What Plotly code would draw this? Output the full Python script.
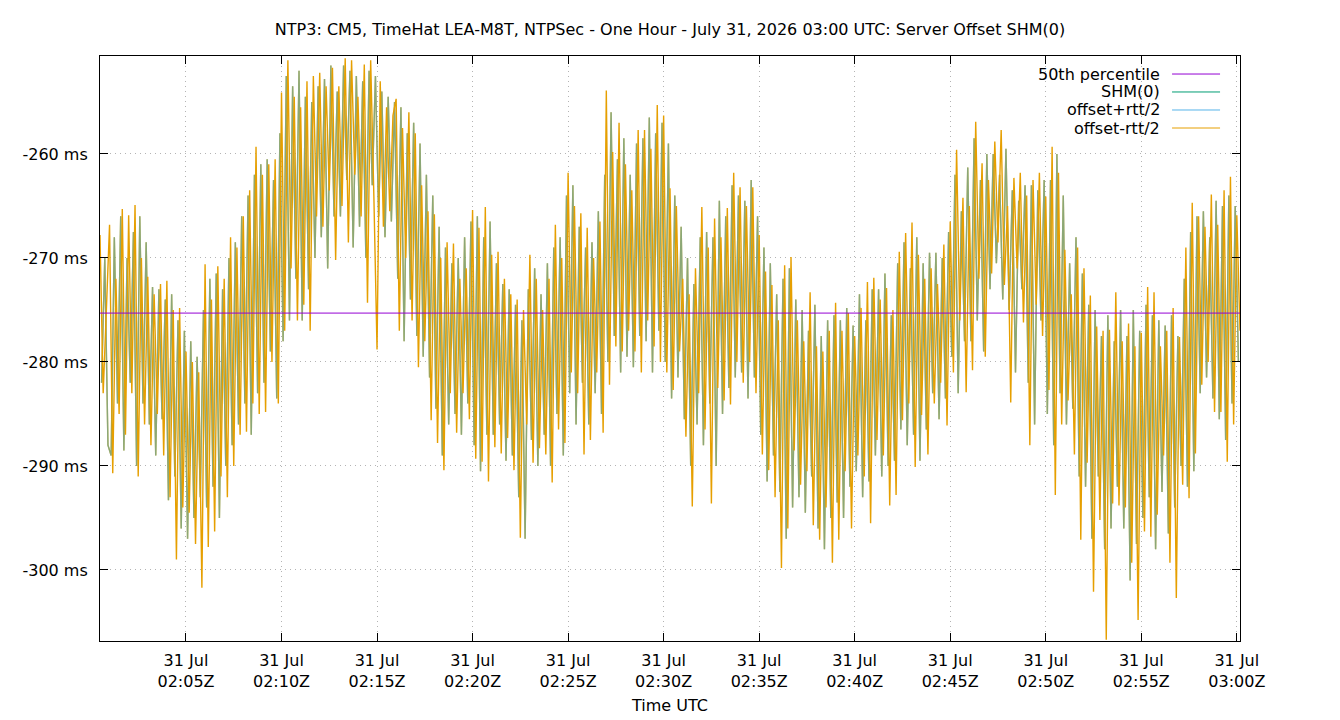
import pandas as pd
import plotly.graph_objects as go

TITLE = "NTP3: CM5, TimeHat LEA-M8T, NTPSec - One Hour - July 31, 2026 03:00 UTC: Server Offset SHM(0)"
START_A = "2026-07-31 02:00:30"
START_B = "2026-07-31 02:00:35"
STEP = "10s"

# offset-rtt/2 readings in ms (orange strokes), one per 10 s, grouped per minute
offset_minus_ms = [
    -267.8, -283, -275,
    -266.8, -290.7, -272, -285, -265.3, -287,
    -265.9, -283, -264.9, -291, -270, -286,
    -271.8, -288, -273.5, -285, -272.5, -289,
    -272.2, -293, -275, -299, -274.8, -294,
    -279, -294.5, -280, -297.5, -281, -301.7,
    -270.6, -297.8, -274, -296.3, -270.8, -291,
    -272, -293, -268, -290, -269, -287,
    -266, -286.7, -263.5, -284, -259.3, -285,
    -262, -284.8, -261, -280, -260.5, -284,
    -254.1, -277, -251, -271, -254.5, -276,
    -255.5, -274.5, -253, -277, -252.5, -266,
    -252.2, -267, -253.5, -263.5, -251.7, -270.2,
    -253.5, -265, -250.8, -268.5, -251, -262,
    -254.5, -266, -251.4, -274.3, -251, -264,
    -278.8, -253, -267, -255.5, -265.5, -256.3,
    -254.7, -277, -257.5, -270, -256, -276,
    -258, -280.5, -263, -278, -265.5, -285.6,
    -265.8, -287.8, -270, -290.4, -268.5, -283,
    -268.6, -286.8, -272, -283, -271, -285.5,
    -265.4, -289.3, -267.1, -289.6, -265.1, -291.5,
    -269.7, -288.2, -269.4, -288.8, -272, -287.3,
    -273.5, -290.4, -274, -296.9, -275, -286,
    -269.7, -289.7, -272, -288.3, -275, -288.9,
    -272, -291.6, -266.8, -286.5, -270, -287.8,
    -261.8, -281, -265, -283, -265.7, -288.9,
    -267.1, -287.5, -270, -281, -266.5, -286.8,
    -253.9, -282.2, -259.8, -278.5, -257, -279,
    -261, -277, -263.5, -279, -257.7, -281,
    -257.7, -276, -259.5, -278.5, -255.3, -280,
    -256.3, -281, -263.3, -282.7, -265, -279,
    -272, -287.2, -273.5, -293.9, -271, -283,
    -265.1, -286.5, -269, -293.6, -266.2, -282.5,
    -268, -283.7, -265.2, -284.1, -261.8, -280,
    -263.2, -282, -265, -280, -263.2, -283,
    -267.8, -288.9, -271.3, -290.4, -272.6, -293,
    -276, -299.8, -270.7, -296, -269.9, -288.5,
    -276, -291.8, -278, -290.5, -273.3, -295.7,
    -278.5, -297.1, -279, -294, -277, -299.3,
    -274.3, -297.1, -277, -290.5, -275.3, -296,
    -277.5, -289, -274.8, -291, -272.3, -295.5,
    -271.9, -287.5, -274, -289, -272.9, -293.8,
    -275, -292.8, -269.4, -285.6, -267.6, -284,
    -266.6, -290.1, -269.7, -285.1, -272, -288.9,
    -271, -284, -272.5, -282, -268.7, -286.1,
    -266.5, -281, -259.6, -276, -264.2, -282.9,
    -265, -280.8, -256.9, -272, -260.9, -279.5,
    -262.5, -271.5, -258.8, -268.5, -257.7, -272.6,
    -265, -283.9, -262.3, -271, -261.8, -276.2,
    -264, -288, -262.5, -274.5, -261.8, -277.5,
    -264.1, -282.7, -259.3, -292.8, -261.8, -286,
    -269.2, -283.7, -273.5, -288.9, -269, -297.1,
    -271, -289.7, -273.6, -302.1, -276.6, -295.2,
    -277, -306.7, -276.9, -293.6, -273.3, -293.8,
    -278, -294, -276.3, -299.3, -278.5, -304.8,
    -277.2, -296.3, -272.8, -296.8, -273.3, -294.7,
    -278.5, -289, -277, -299.3, -274.8, -302.7,
    -277.6, -291.8, -269, -293.1, -264.7, -288.8,
    -266, -282.2, -267, -280, -263.9, -284.8,
    -266.8, -284.8, -263.5, -289.6, -262.2, -286,
    -265.9, -277,
]

# SHM(0) / offset+rtt/2 readings in ms (sage strokes), one per 10 s, offset by 5 s
shm_ms = [
    -282, -270, -288,
    -289, -268, -284, -266, -288.5, -270,
    -282, -267.5, -290, -266, -284, -268.5,
    -286, -272.8, -289, -273, -285.5, -274,
    -293.3, -273.5, -291, -276, -296, -277,
    -297, -278, -295, -279.5, -293, -275,
    -294, -272, -292, -271.5, -295, -273,
    -290, -270, -288, -268.5, -286, -266,
    -284, -264, -287, -262, -283, -261,
    -282, -260.5, -279, -262.5, -283.5, -258,
    -278, -252.5, -276, -253.5, -272, -252,
    -276, -254.5, -273, -255, -270, -253.5,
    -268, -252.8, -271, -251.5, -266, -254,
    -266, -251.5, -262.5, -252, -269, -252.5,
    -267, -253, -270, -252, -263, -252.5,
    -266, -254, -268, -254.5, -266.5, -255,
    -272, -255.5, -278, -258, -274, -257,
    -277.5, -259, -279.5, -262, -281.5, -264,
    -284.5, -267, -289, -269, -286, -270.5,
    -285, -270, -287, -268, -284, -266.5,
    -288, -266, -290.5, -268, -287, -266.5,
    -287, -270.5, -286, -272.5, -289.5, -273,
    -289, -274.5, -293, -276, -297, -273,
    -287.5, -271, -290, -273.5, -287, -270.5,
    -290, -269, -285, -268, -289, -264,
    -283, -263, -286, -267, -282, -269,
    -286, -268.5, -283, -265.5, -285, -262,
    -280, -256, -277.5, -260.5, -281, -258.5,
    -279.5, -262, -280.5, -259, -277.5, -258.5,
    -278, -256.5, -281, -258, -277, -257,
    -280, -259, -283.5, -264, -281.5, -267,
    -285.5, -270, -290, -272.5, -286, -268,
    -288, -267.5, -284, -268, -290, -264.5,
    -285, -266, -282.5, -263, -281.5, -264,
    -281, -264.5, -283.5, -262.5, -281.5, -266,
    -287, -269, -291.5, -270.5, -289, -273.5,
    -292.5, -272, -297, -271, -294, -274,
    -293, -275, -294.5, -277, -291, -274.5,
    -296, -277.5, -298, -276, -295, -275.5,
    -293.5, -276, -295, -274.8, -292, -276.5,
    -290.5, -273.5, -293, -276, -291.5, -273,
    -289, -273, -291, -271.5, -290, -275.5,
    -289.5, -270.5, -286.5, -268.5, -288, -271,
    -287, -268, -289.5, -270.5, -286.5, -269.5,
    -283, -269.5, -285.5, -270, -283.5, -267.5,
    -279.5, -262, -283, -265.5, -278, -261.3,
    -278, -258.5, -276, -262.5, -279, -260,
    -273, -260, -270.5, -262, -274, -259.5,
    -275, -263.5, -281, -264.5, -273, -263,
    -282, -263, -286, -263.5, -276, -262.5,
    -285, -262.5, -288, -260, -283, -264,
    -286, -270.5, -284.5, -268, -291, -271.5,
    -292, -274.5, -297, -275, -291, -277.5,
    -298, -275.5, -296, -278, -292, -275,
    -296, -277.5, -301, -275, -297.5, -277,
    -295, -274.5, -293, -275.5, -298, -276,
    -292.5, -276.5, -296.5, -275.5, -294, -277.5,
    -290, -272, -292, -267.5, -290.5, -266,
    -283, -265.5, -281.5, -268, -283.5, -264.5,
    -285.5, -265, -287.5, -264, -284, -265,
    -280,
]

p50_ms = -275.3

x_ticks = ["2026-07-31 02:05", "2026-07-31 02:10", "2026-07-31 02:15", "2026-07-31 02:20",
           "2026-07-31 02:25", "2026-07-31 02:30", "2026-07-31 02:35", "2026-07-31 02:40",
           "2026-07-31 02:45", "2026-07-31 02:50", "2026-07-31 02:55", "2026-07-31 03:00"]
x_ticktext = ["31 Jul<br>02:05Z", "31 Jul<br>02:10Z", "31 Jul<br>02:15Z", "31 Jul<br>02:20Z",
              "31 Jul<br>02:25Z", "31 Jul<br>02:30Z", "31 Jul<br>02:35Z", "31 Jul<br>02:40Z",
              "31 Jul<br>02:45Z", "31 Jul<br>02:50Z", "31 Jul<br>02:55Z", "31 Jul<br>03:00Z"]
y_ticks = [-300, -290, -280, -270, -260]
y_ticktext = ["-300 ms", "-290 ms", "-280 ms", "-270 ms", "-260 ms"]

series_names = ["50th percentile", "SHM(0)", "offset+rtt/2", "offset-rtt/2"]
series_colors = ["#9400D3", "#009E73", "#56B4E9", "#E69F00"]

times_a = pd.date_range(START_A, periods=len(offset_minus_ms), freq=STEP)
times_b = pd.date_range(START_B, periods=len(shm_ms), freq=STEP)
x_lo, x_hi = pd.Timestamp("2026-07-31 02:00:30"), pd.Timestamp("2026-07-31 03:00:10")

FONT = "DejaVu Sans"
FS = 16
LW = 1.4
fig = go.Figure()

# under-stroke for the sage lines (orange base, tinted by the two lines above it)
fig.add_trace(go.Scatter(x=times_b, y=shm_ms, mode="lines", legendgroup="minus",
                         line=dict(color=series_colors[3], width=LW), name=series_names[3],
                         showlegend=False))
fig.add_trace(go.Scatter(x=times_b, y=shm_ms, mode="lines",
                         line=dict(color=series_colors[1], width=LW), opacity=0.2, name=series_names[1]))
fig.add_trace(go.Scatter(x=times_b, y=shm_ms, mode="lines",
                         line=dict(color=series_colors[2], width=LW), opacity=0.45, name=series_names[2]))
fig.add_trace(go.Scatter(x=times_a, y=offset_minus_ms, mode="lines", legendgroup="minus",
                         line=dict(color=series_colors[3], width=LW), name=series_names[3]))
fig.add_trace(go.Scatter(x=[x_lo, x_hi], y=[p50_ms, p50_ms], mode="lines",
                         line=dict(color=series_colors[0], width=1), name=series_names[0]))

# gnuplot-style key: right-aligned text, line sample on the right
leg_y = [0.9692, 0.9385, 0.9077, 0.8769]
for name, col, yy in zip(series_names, series_colors, leg_y):
    fig.add_annotation(x=0.9316, y=yy, xref="paper", yref="paper", text=name, showarrow=False,
                       xanchor="right", yanchor="middle", font=dict(family=FONT, size=FS, color="black"))
    fig.add_shape(type="line", xref="paper", yref="paper", x0=0.9404, x1=0.9825, y0=yy, y1=yy,
                  line=dict(color=col, width=1))

GRID = dict(showgrid=True, gridcolor="#b4b4b4", griddash="1px,4px", gridwidth=1)
fig.update_layout(
    width=1340, height=720,
    margin=dict(l=100, r=100, t=56, b=79),
    paper_bgcolor="white", plot_bgcolor="white",
    showlegend=False,
    font=dict(family=FONT, size=FS, color="black"),
    title=dict(text=TITLE, x=0.5, xanchor="center", y=1 - 29 / 720, yanchor="middle",
               yref="container", font=dict(family=FONT, size=FS, color="black")),
)
fig.update_xaxes(
    range=[x_lo, x_hi], tickmode="array", tickvals=x_ticks, ticktext=x_ticktext,
    ticks="inside", ticklen=8, tickcolor="black", tickwidth=1,
    showline=True, linecolor="black", linewidth=1, mirror="ticks",
    zeroline=False, ticklabelstandoff=5, automargin=False, **GRID,
    title=dict(text="Time UTC", standoff=9, font=dict(family=FONT, size=FS)),
)
fig.update_yaxes(
    range=[-306.83, -250.58], tickmode="array", tickvals=y_ticks, ticktext=y_ticktext,
    ticks="inside", ticklen=8, tickcolor="black", tickwidth=1,
    showline=True, linecolor="black", linewidth=1, mirror="ticks",
    zeroline=False, ticklabelstandoff=8, automargin=False, **GRID,
)

fig.write_html("out.html")
